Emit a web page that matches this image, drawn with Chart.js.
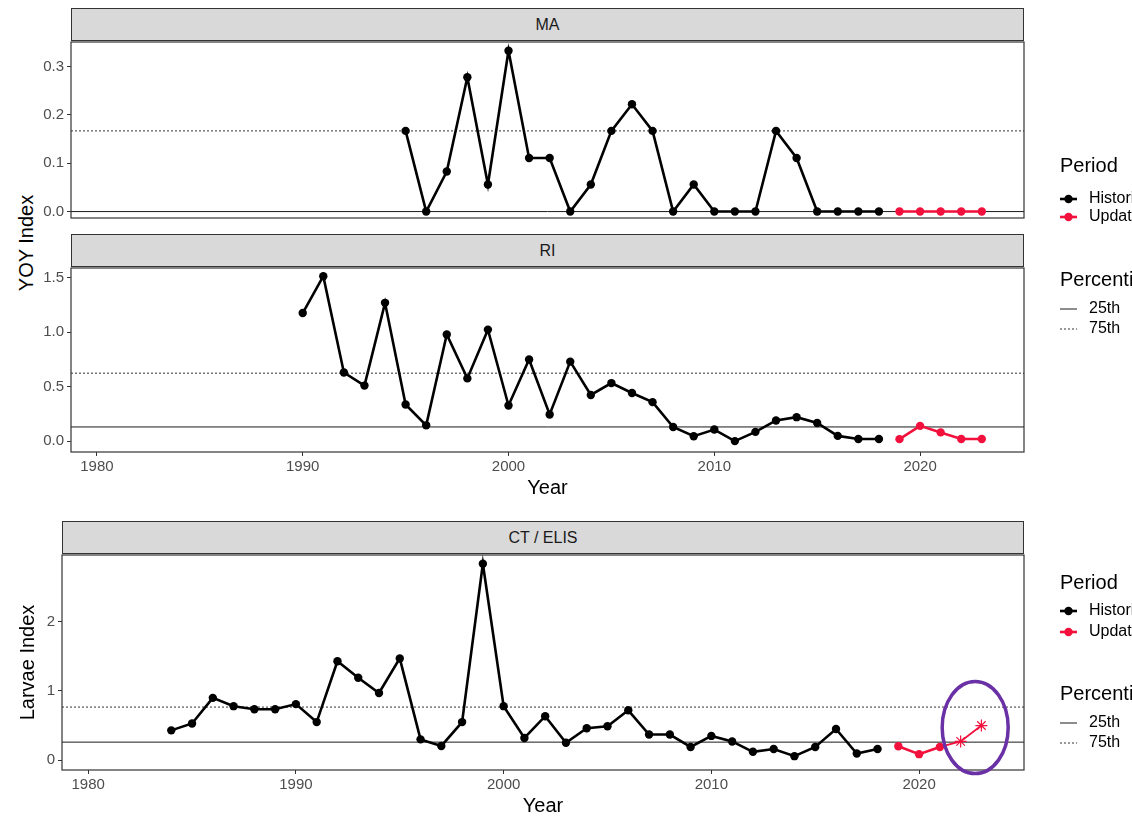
<!DOCTYPE html>
<html>
<head>
<meta charset="utf-8">
<script src="https://cdn.jsdelivr.net/npm/chart.js@4.4.1/dist/chart.umd.min.js"></script>
<style>
  body { margin: 0; width: 1132px; height: 818px; overflow: hidden; background: #fff;
         font-family: "Liberation Sans", Arial, Helvetica, sans-serif; position: relative; }
  canvas { position: absolute; left: 0; }
  .strip { position: absolute; background: #d9d9d9; border: 1px solid #333; box-sizing: border-box;
           text-align: center; color: #1a1a1a; font-size: 16px; }
  .ytitle { position: absolute; font-size: 20px; color: #000; white-space: nowrap;
            transform: translate(-50%, -50%) rotate(-90deg); }
  .lg { position: absolute; left: 1060px; white-space: nowrap; color: #000; }
  .lg.title { font-size: 20px; }
  .lg.item { font-size: 16px; }
  .lg.item svg { vertical-align: middle; margin-right: 12px; }
</style>
</head>
<body>

<div class="strip" style="left:71px;top:8px;width:953px;height:33px;line-height:31px">MA</div>
<div class="strip" style="left:71px;top:234px;width:953px;height:33px;line-height:31px">RI</div>
<div class="strip" style="left:62px;top:521px;width:962px;height:33px;line-height:31px">CT / ELIS</div>
<div class="ytitle" style="left:26px;top:243px">YOY Index</div>

<canvas id="ma" width="1132" height="200" style="top:30px"></canvas>
<canvas id="ri" width="1132" height="244" style="top:256px"></canvas>
<canvas id="ct" width="1132" height="275" style="top:543px"></canvas>

<div id="legends"></div>

<script>
// ---- data ----
const maYears   = [1995,1996,1997,1998,1999,2000,2001,2002,2003,2004,2005,2006,2007,2008,2009,2010,2011,2012,2013,2014,2015,2016,2017,2018];
const maHist    = [0.167,0,0.083,0.278,0.056,0.333,0.111,0.111,0,0.056,0.167,0.222,0.167,0,0.056,0,0,0,0.167,0.111,0,0,0,0];
const maUpdYears = [2019,2020,2021,2022,2023];
const maUpd     = [0,0,0,0,0];
const maPct     = [0, 0.167];   // 25th, 75th

const riYears   = [1990,1991,1992,1993,1994,1995,1996,1997,1998,1999,2000,2001,2002,2003,2004,2005,2006,2007,2008,2009,2010,2011,2012,2013,2014,2015,2016,2017,2018];
const riHist    = [1.176,1.515,0.63,0.51,1.27,0.336,0.145,0.98,0.576,1.024,0.327,0.75,0.245,0.73,0.424,0.533,0.442,0.358,0.13,0.045,0.106,0.0,0.085,0.19,0.22,0.167,0.048,0.02,0.02];
const riUpdYears = [2019,2020,2021,2022,2023];
const riUpd     = [0.018,0.14,0.08,0.02,0.02];
const riPct     = [0.13, 0.624];

const ctYears   = [1984,1985,1986,1987,1988,1989,1990,1991,1992,1993,1994,1995,1996,1997,1998,1999,2000,2001,2002,2003,2004,2005,2006,2007,2008,2009,2010,2011,2012,2013,2014,2015,2016,2017,2018];
const ctHist    = [0.43,0.53,0.90,0.78,0.735,0.735,0.81,0.55,1.43,1.19,0.97,1.47,0.30,0.205,0.55,2.84,0.78,0.32,0.635,0.25,0.46,0.49,0.72,0.37,0.37,0.19,0.35,0.27,0.12,0.16,0.057,0.19,0.45,0.095,0.16];
const ctUpdYears = [2019,2020,2021,2022,2023];
const ctUpd     = [0.20,0.086,0.19,0.27,0.50];
const ctPct     = [0.26, 0.767];

const yearTicks = [1980,1990,2000,2010,2020];
const maTicks = [0,0.1,0.2,0.3];
const riTicks = [0,0.5,1.0,1.5];
const ctTicks = [0,1,2];

// axis ranges
const xRange  = [1978.74, 2025.05];
const maRange = [-0.0133, 0.351];
const riRange = [-0.1, 1.59];
const ctRange = [-0.143, 2.966];

const BLACK = '#000000';
const RED = '#f2103c';
const TICK = '#4d4d4d';
const FONT = '"Liberation Sans", Arial, sans-serif';

function pts(xs, ys) { return xs.map((x, i) => ({x: x, y: ys[i]})); }

// frame around the panel (theme_bw style)
const panelBox = {
  id: 'panelBox',
  afterDraw(chart) {
    const a = chart.chartArea, c = chart.ctx;
    c.save();
    c.strokeStyle = '#333';
    c.lineWidth = 1.2;
    c.strokeRect(a.left, a.top, a.right - a.left, a.bottom - a.top);
    c.restore();
  }
};

// highlight ellipse in CT panel
const hilite = { x: 2022.7, y: 0.47, rx: 33, ry: 46 };
const ellipsePlugin = {
  id: 'ellipse',
  afterDraw(chart) {
    if (chart.canvas.id !== 'ct') return;
    const c = chart.ctx;
    const cx = chart.scales.x.getPixelForValue(hilite.x);
    const cy = chart.scales.y.getPixelForValue(hilite.y);
    c.save();
    c.strokeStyle = '#6a30a6';
    c.lineWidth = 3.5;
    c.beginPath();
    c.ellipse(cx, cy, hilite.rx, hilite.ry, 0, 0, Math.PI * 2);
    c.stroke();
    c.restore();
  }
};

function makePanel(id, cfg) {
  const datasets = [
    {
      label: 'Historical', data: pts(cfg.years, cfg.hist),
      borderColor: BLACK, backgroundColor: BLACK, borderWidth: 2.6,
      pointRadius: 4.2, pointHoverRadius: 4.2, pointBorderWidth: 0, clip: false
    },
    {
      label: 'Updated', data: pts(cfg.updYears, cfg.upd),
      borderColor: RED, backgroundColor: RED, borderWidth: 2.6,
      pointRadius: cfg.updRadius || 4.2, pointBorderWidth: cfg.updBorder || 0,
      pointStyle: cfg.updStyle || 'circle', pointBorderColor: RED, clip: false,
      segment: cfg.segment || {}
    },
    {
      label: '25th', data: pts(xRange, [cfg.pct[0], cfg.pct[0]]),
      borderColor: '#1a1a1a', borderWidth: 1, pointRadius: 0
    },
    {
      label: '75th', data: pts(xRange, [cfg.pct[1], cfg.pct[1]]),
      borderColor: '#333', borderWidth: 1, borderDash: [2, 2], pointRadius: 0
    }
  ];
  return new Chart(document.getElementById(id), {
    type: 'line',
    data: { datasets },
    options: {
      responsive: false,
      animation: false,
      layout: { padding: { top: 10, right: 108, bottom: cfg.padBottom, left: 0 } },
      plugins: { legend: { display: false }, tooltip: { enabled: false } },
      scales: {
        x: {
          type: 'linear', min: xRange[0], max: xRange[1],
          display: cfg.showX,
          afterBuildTicks: s => { s.ticks = yearTicks.map(v => ({value: v})); },
          afterFit: s => { s.height = cfg.showX ? 48 : 0; },
          grid: { drawOnChartArea: false, drawTicks: true, tickLength: 4, color: '#333' },
          border: { display: false },
          ticks: { color: TICK, font: { family: FONT, size: 15 }, padding: 2, maxRotation: 0,
                   callback: v => String(v) },
          title: { display: true, text: 'Year', color: '#000', font: { family: FONT, size: 20 },
                   padding: { top: 0, bottom: 0 } }
        },
        y: {
          type: 'linear', min: cfg.range[0], max: cfg.range[1],
          afterBuildTicks: s => { s.ticks = cfg.ticks.map(v => ({value: v})); },
          afterFit: s => { s.width = cfg.yWidth; },
          grid: { drawOnChartArea: false, drawTicks: true, tickLength: 4, color: '#333' },
          border: { display: false },
          ticks: { color: TICK, font: { family: FONT, size: 15 }, padding: 3,
                   callback: v => v.toFixed(cfg.digits) },
          title: { display: !!cfg.yTitle, text: cfg.yTitle || '', color: '#000',
                   font: { family: FONT, size: 20 }, padding: { top: 16, bottom: 0 } }
        }
      }
    },
    plugins: [panelBox, ellipsePlugin]
  });
}

makePanel('ma', { years: maYears, hist: maHist, updYears: maUpdYears, upd: maUpd, pct: maPct,
  ticks: maTicks, range: maRange, digits: 1, yWidth: 71, showX: false, padBottom: 8 });
makePanel('ri', { years: riYears, hist: riHist, updYears: riUpdYears, upd: riUpd, pct: riPct,
  ticks: riTicks, range: riRange, digits: 1, yWidth: 71, showX: true, padBottom: 0 });
makePanel('ct', { years: ctYears, hist: ctHist, updYears: ctUpdYears, upd: ctUpd, pct: ctPct,
  ticks: ctTicks, range: ctRange, digits: 0, yWidth: 62, showX: true, padBottom: 0,
  yTitle: 'Larvae Index',
  updStyle: ctUpdYears.map(y => y >= 2022 ? 'star' : 'circle'),
  updRadius: ctUpdYears.map(y => y >= 2022 ? 6 : 4.2),
  updBorder: ctUpdYears.map(y => y >= 2022 ? 1.2 : 0),
  segment: { borderWidth: c => c.p0DataIndex >= 2 ? 1.8 : 2.6 } });

// ---- legends (HTML) ----
const keyHist = '<svg width="17" height="10"><line x1="0" y1="5" x2="17" y2="5" stroke="' + BLACK + '" stroke-width="2.6"/><circle cx="8.5" cy="5" r="4.2" fill="' + BLACK + '"/></svg>';
const keyUpd  = '<svg width="17" height="10"><line x1="0" y1="5" x2="17" y2="5" stroke="' + RED + '" stroke-width="2.6"/><circle cx="8.5" cy="5" r="4.2" fill="' + RED + '"/></svg>';
const key25 = '<svg width="17" height="10"><line x1="0" y1="5" x2="17" y2="5" stroke="#1a1a1a" stroke-width="1"/></svg>';
const key75 = '<svg width="17" height="10"><line x1="0" y1="5" x2="17" y2="5" stroke="#333" stroke-width="1" stroke-dasharray="2,2"/></svg>';

function legendAt(topPeriod, offs) {
  const rows = [
    ['title', 'Period'],
    ['item', keyHist + 'Historical'],
    ['item', keyUpd + 'Updated'],
    ['title', 'Percentile'],
    ['item', key25 + '25th'],
    ['item', key75 + '75th']
  ];
  return rows.map((r, i) => '<div class="lg ' + r[0] + '" style="top:' + (topPeriod + offs[i]) +
    'px;transform:translateY(-50%)">' + r[1] + '</div>').join('');
}
document.getElementById('legends').innerHTML =
  legendAt(165, [0, 33, 51, 114, 143, 163]) + legendAt(582, [0, 28, 49, 111, 140, 160]);
</script>
</body>
</html>
